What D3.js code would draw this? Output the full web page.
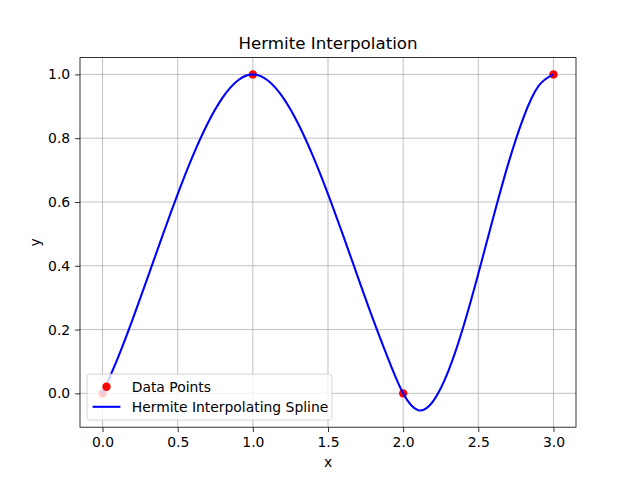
<!DOCTYPE html>
<html>
<head>
<meta charset="utf-8">
<script src="https://cdn.jsdelivr.net/npm/d3@7"></script>
<style>
body{margin:0;background:#fff;}
svg{font-family:"DejaVu Sans",sans-serif;}
</style>
</head>
<body>
<div id="chart"></div>
<script>
// data points (knots)
const knotX = [0, 1, 2, 3];
const knotY = [0, 1, 0, 1];
// spline curve, every 0.1
const curveX = d3.range(0, 31).map(i => i / 10);
const curveY = [0, 0.109, 0.232, 0.363, 0.496, 0.625, 0.744, 0.847, 0.928, 0.981, 1,
    0.981, 0.928, 0.847, 0.744, 0.625, 0.496, 0.363, 0.232, 0.109, 0,
    -0.053, -0.024, 0.069, 0.208, 0.375, 0.552, 0.721, 0.864, 0.963, 1];
const xTicks = [0, 0.5, 1, 1.5, 2, 2.5, 3];
const yTicks = [0, 0.2, 0.4, 0.6, 0.8, 1.0];

var W = 640, H = 480;
var margin = {top:57.6,right:64,bottom:52.8,left:80},
w = W - margin.left - margin.right,
h = H - margin.top - margin.bottom;

var svg = d3.select("#chart").append("svg")
.attr("width",W).attr("height",H);
var g = svg.append("g")
.attr("transform",`translate(${margin.left},${margin.top})`);

var xScale = d3.scaleLinear().domain([-0.15,3.15]).range([0,w]);
var yScale = d3.scaleLinear().domain([-0.1061,1.0527]).range([h,0]);

// grid
g.append("g").selectAll("line").data(xTicks).enter().append("line")
.attr("x1",d=>xScale(d)).attr("x2",d=>xScale(d)).attr("y1",0).attr("y2",h)
.attr("stroke","#b0b0b0").attr("stroke-width",0.8);
g.append("g").selectAll("line").data(yTicks).enter().append("line")
.attr("y1",d=>yScale(d)).attr("y2",d=>yScale(d)).attr("x1",0).attr("x2",w)
.attr("stroke","#b0b0b0").attr("stroke-width",0.8);

// axes
var xAxis = g.append("g").attr("transform",`translate(0,${h})`)
.call(d3.axisBottom(xScale).tickValues(xTicks).tickFormat(d3.format(".1f")).tickSize(4.9).tickPadding(4.9));
var yAxis = g.append("g")
.call(d3.axisLeft(yScale).tickValues(yTicks).tickFormat(d3.format(".1f")).tickSize(4.9).tickPadding(4.9));
[xAxis,yAxis].forEach(a=>{
    a.select(".domain").remove();
    a.selectAll("line").attr("stroke","#000").attr("stroke-width",0.8);
    a.selectAll("text").attr("font-size","13.9px").attr("font-family","DejaVu Sans").attr("fill","#000");
});

// scatter points
g.append("g").selectAll("circle").data(knotX).enter().append("circle")
.attr("cx",(d)=>xScale(d)).attr("cy",(d,i)=>yScale(knotY[i]))
.attr("r",4.2).attr("fill","#ff0000");

// spline line
var line = d3.line().x(d=>xScale(d[0])).y(d=>yScale(d[1])).curve(d3.curveNatural);
g.append("path").datum(curveX.map((x,i)=>[x,curveY[i]]))
.attr("d",line).attr("fill","none").attr("stroke","#0000ff").attr("stroke-width",2.08);

// frame
g.append("rect").attr("width",w).attr("height",h)
.attr("fill","none").attr("stroke","#000").attr("stroke-width",0.8);

// labels
svg.append("text").text("Hermite Interpolation")
.attr("x",margin.left+w/2).attr("y",49).attr("text-anchor","middle")
.attr("font-size","16.7px");
svg.append("text").text("x")
.attr("x",margin.left+w/2).attr("y",467).attr("text-anchor","middle")
.attr("font-size","13.9px");
svg.append("text").text("y")
.attr("transform","translate(40,"+(margin.top+h/2)+")rotate(-90)")
.attr("text-anchor","middle").attr("font-size","13.9px");

// legend
var lg = g.append("g").attr("transform","translate(7,316.5)");
lg.append("rect").attr("width",245).attr("height",46).attr("rx",3)
.attr("fill","#fff").attr("fill-opacity",0.8).attr("stroke","#cccccc").attr("stroke-width",0.8);
lg.append("circle").attr("cx",19.5).attr("cy",12.7).attr("r",4.2).attr("fill","#ff0000");
lg.append("line").attr("x1",5.6).attr("x2",33.4).attr("y1",32.7).attr("y2",32.7)
.attr("stroke","#0000ff").attr("stroke-width",2.08);
lg.append("text").text("Data Points").attr("x",44.7).attr("y",17.6).attr("font-size","13.9px");
lg.append("text").text("Hermite Interpolating Spline").attr("x",44.7).attr("y",37.6).attr("font-size","13.9px");
</script>
</body>
</html>
